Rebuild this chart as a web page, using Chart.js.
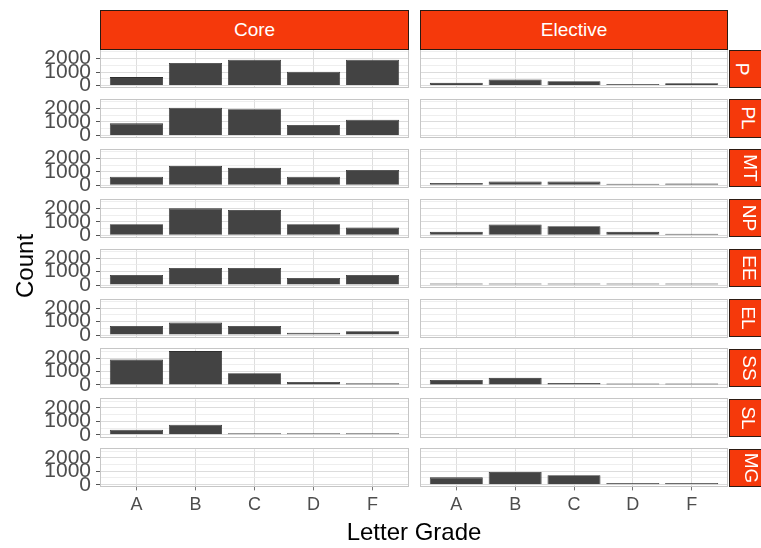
<!DOCTYPE html>
<html>
<head>
<meta charset="utf-8">
<script src="https://cdn.jsdelivr.net/npm/chart.js@4/dist/chart.umd.min.js"></script>
<style>
  html, body { margin: 0; padding: 0; background: #ffffff; }
  #wrap { position: relative; width: 761px; height: 548px; overflow: hidden; background: #ffffff;
          font-family: "Liberation Sans", Arial, sans-serif; }
  #wrap canvas { position: absolute; left: 0; top: 0; pointer-events: none; }
  .strip { position: absolute; box-sizing: border-box; background: #f5390b; border: 1px solid #2b1a12;
           color: #ffffff; display: flex; align-items: center; justify-content: center; font-size: 19px; }
  .strip span { display: inline-block; }
  .strip.side span { transform: rotate(90deg); white-space: nowrap; }
  .axis-title { position: absolute; color: #000000; font-size: 24px; white-space: nowrap; }
</style>
</head>
<body>
<div id="wrap"></div>
<script>
// Letter grade counts by course group (rows) and course type (columns)
const grades = ['A', 'B', 'C', 'D', 'F'];
const groups = ['P', 'PL', 'MT', 'NP', 'EE', 'EL', 'SS', 'SL', 'MG'];
const courseTypes = ['Core', 'Elective'];
const yTickValues = [0, 1000, 2000];

const coreP  = [625, 1675, 1925, 1020, 1925];
const corePL = [900, 2070, 1950, 775, 1170];
const coreMT = [645, 1450, 1300, 645, 1150];
const coreNP = [825, 2000, 1875, 825, 570];
const coreEE = [750, 1275, 1275, 525, 750];
const coreEL = [675, 925, 675, 175, 275];
const coreSS = [1900, 2520, 870, 225, 120];
const coreSL = [375, 750, 120, 20, 20];
const coreMG = [null, null, null, null, null];

const electiveP  = [200, 450, 325, 75, 175];
const electivePL = [null, null, null, null, null];
const electiveMT = [175, 275, 275, 100, 130];
const electiveNP = [250, 800, 675, 250, 100];
const electiveEE = [40, 90, 90, 70, 40];
const electiveEL = [null, null, null, null, null];
const electiveSS = [375, 525, 150, 60, 30];
const electiveSL = [null, null, null, null, null];
const electiveMG = [550, 950, 700, 130, 130];

const coreRows = [coreP, corePL, coreMT, coreNP, coreEE, coreEL, coreSS, coreSL, coreMG];
const electiveRows = [electiveP, electivePL, electiveMT, electiveNP, electiveEE, electiveEL, electiveSS, electiveSL, electiveMG];
const table = [coreRows, electiveRows];

// Page geometry
const W = 761, H = 548;
const PANEL_TOP = 50, ROW_STEP = 49.9, PANEL_H = 37.2;
const COL_LEFT = [101, 421], COL_RIGHT = [408, 727];
const STRIP_TOP = 10, STRIP_H = 39.5;
const SIDE_LEFT = 729, SIDE_W = 36;
const X_AXIS_H = 40;

// Shared y range for all panels, with 5% head- and foot-room
const allValues = [].concat(...coreRows, ...electiveRows).filter(v => v !== null);
const yMaxData = Math.max(...allValues);
const yMin = -0.05 * yMaxData;
const yMax = 1.05 * yMaxData;
const yGridValues = [];
for (let v = 0; v <= yMax; v += 500) yGridValues.push(v);

const wrap = document.getElementById('wrap');

// Panel frame drawn on top of the data
const panelBorder = {
  id: 'panelBorder',
  afterDatasetsDraw(chart) {
    const a = chart.chartArea, ctx = chart.ctx;
    ctx.save();
    ctx.strokeStyle = '#c6c6c6';
    ctx.lineWidth = 1;
    const l = Math.round(a.left) - 0.5, t = Math.round(a.top) - 0.5;
    const r = Math.round(a.right) + 0.5, b = Math.round(a.bottom) + 0.5;
    ctx.strokeRect(l, t, r - l, b - t);
    ctx.restore();
  }
};

function makePanel(row, col) {
  const values = table[col][row];
  const top = PANEL_TOP + row * ROW_STEP;
  const bottom = top + PANEL_H;
  const isLast = row === groups.length - 1;
  const xH = isLast ? X_AXIS_H : 0;
  const yW = col === 0 ? COL_LEFT[0] : 0;

  const canvas = document.createElement('canvas');
  canvas.width = W; canvas.height = H;
  canvas.style.width = W + 'px'; canvas.style.height = H + 'px';
  wrap.appendChild(canvas);

  new Chart(canvas, {
    type: 'bar',
    data: {
      datasets: [{
        data: grades.map((g, i) => ({ x: i + 1, y: values[i] })),
        backgroundColor: '#434343',
        borderColor: '#2f2f2f',
        borderWidth: 0.8,
        minBarLength: 1.5,
        barPercentage: 0.9,
        categoryPercentage: 1
      }]
    },
    options: {
      responsive: false,
      animation: false,
      devicePixelRatio: 1,
      layout: {
        padding: {
          left: col === 0 ? 0 : COL_LEFT[1],
          right: W - COL_RIGHT[col],
          top: top,
          bottom: H - bottom - xH
        }
      },
      plugins: { legend: { display: false }, tooltip: { enabled: false } },
      scales: {
        x: {
          type: 'linear',
          offset: false,
          min: 0.4,
          max: 5.6,
          afterBuildTicks: s => { s.ticks = grades.map((g, i) => ({ value: i + 1 })); },
          afterFit: s => { s.height = xH; },
          border: { display: false },
          grid: {
            offset: false,
            color: '#dedede',
            lineWidth: 1,
            drawTicks: isLast,
            tickLength: 4,
            tickColor: '#777777'
          },
          ticks: {
            display: isLast,
            autoSkip: false,
            maxRotation: 0,
            padding: 4,
            color: '#4d4d4d',
            font: { family: '"Liberation Sans", Arial, sans-serif', size: 18 },
            callback: v => grades[Math.round(v) - 1]
          }
        },
        y: {
          min: yMin,
          max: yMax,
          afterBuildTicks: s => { s.ticks = yGridValues.map(v => ({ value: v })); },
          afterFit: s => { s.width = yW; },
          border: { display: false },
          grid: {
            color: c => (c.tick && c.tick.value % 1000 === 0) ? '#dcdcdc' : '#eaeaea',
            lineWidth: c => (c.tick && c.tick.value % 1000 === 0) ? 1 : 0.8,
            drawTicks: col === 0,
            tickLength: 5,
            tickColor: c => (c.tick && yTickValues.includes(c.tick.value)) ? '#555555' : 'rgba(0,0,0,0)'
          },
          ticks: {
            display: col === 0,
            autoSkip: false,
            padding: 5,
            color: '#4d4d4d',
            font: { family: '"Liberation Sans", Arial, sans-serif', size: 21 },
            callback: v => yTickValues.includes(v) ? String(v) : ''
          }
        }
      }
    },
    plugins: [panelBorder]
  });
}

for (let r = 0; r < groups.length; r++) {
  for (let c = 0; c < courseTypes.length; c++) makePanel(r, c);
}

// Facet strips
courseTypes.forEach((name, c) => {
  const d = document.createElement('div');
  d.className = 'strip';
  d.style.left = (COL_LEFT[c] - 1) + 'px';
  d.style.top = STRIP_TOP + 'px';
  d.style.width = (COL_RIGHT[c] - COL_LEFT[c] + 2) + 'px';
  d.style.height = STRIP_H + 'px';
  d.innerHTML = '<span>' + name + '</span>';
  wrap.appendChild(d);
});
groups.forEach((name, r) => {
  const d = document.createElement('div');
  d.className = 'strip side';
  d.style.left = SIDE_LEFT + 'px';
  d.style.top = (PANEL_TOP + r * ROW_STEP - 0.5) + 'px';
  d.style.width = SIDE_W + 'px';
  d.style.height = (PANEL_H + 1) + 'px';
  d.style.justifyContent = 'flex-start';
  d.style.paddingLeft = '6px';
  d.innerHTML = '<span>' + name + '</span>';
  wrap.appendChild(d);
});

// Axis titles
const xt = document.createElement('div');
xt.className = 'axis-title';
xt.textContent = 'Letter Grade';
xt.style.left = '414px';
xt.style.top = '532px';
xt.style.transform = 'translate(-50%, -50%)';
wrap.appendChild(xt);

const yt = document.createElement('div');
yt.className = 'axis-title';
yt.textContent = 'Count';
yt.style.left = '25px';
yt.style.top = '266px';
yt.style.transform = 'translate(-50%, -50%) rotate(-90deg)';
wrap.appendChild(yt);
</script>
</body>
</html>
